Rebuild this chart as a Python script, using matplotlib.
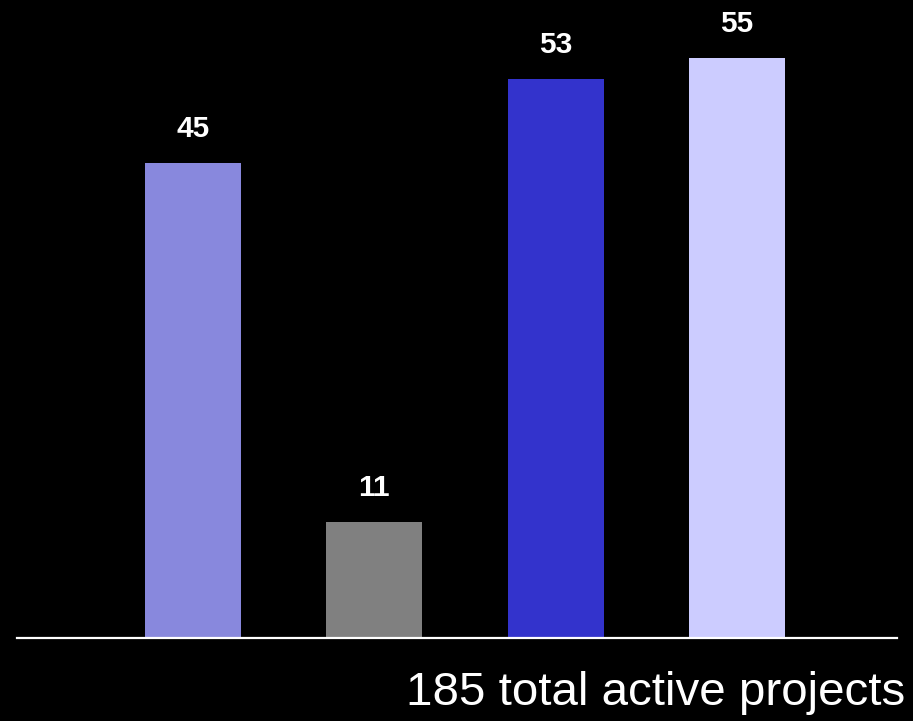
import matplotlib
matplotlib.use("Agg")
import matplotlib.pyplot as plt

plt.rcParams["font.family"]=["Liberation Sans","DejaVu Sans"]

categories=["A","B","C","D"]
counts=[45,11,53,55]
bar_colors=["#8888DD","#808080","#3333CC","#CCCCFF"]
total_label="185 total active projects"

figure=plt.figure(figsize=(9.13,7.21),dpi=100,facecolor="black")
axis=figure.add_axes([17/913,83/721,880/913,638/721],facecolor="black")
positions=list(range(len(categories)))
axis.bar(positions,counts,width=0.53,color=bar_colors,zorder=2)
for x,value in zip(positions,counts):
    axis.annotate(str(value),(x,value),xytext=(0,19),textcoords="offset points",
                  ha="center",va="baseline",color="white",fontsize=21.5,fontweight="bold")
axis.set_xlim(-0.97,3.882)
axis.set_ylim(0,60.5)
for side in ("top","right","left"): axis.spines[side].set_visible(False)
axis.spines["bottom"].set_color("white")
axis.spines["bottom"].set_linewidth(1.6)
axis.set_xticks([]); axis.set_yticks([])
figure.text(905/913,1-705/721,total_label,ha="right",va="baseline",color="white",fontsize=34.2)
figure.savefig("out.png",dpi=100,facecolor="black")
